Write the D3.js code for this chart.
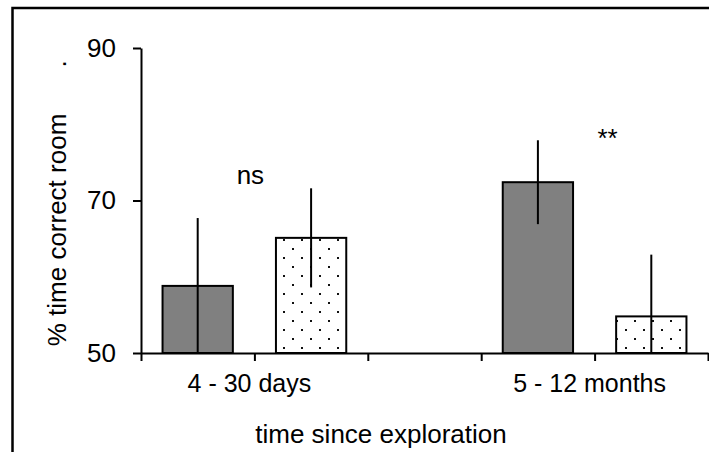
<!DOCTYPE html>
<html>
<head>
<meta charset="utf-8">
<script src="https://cdn.jsdelivr.net/npm/d3@7"></script>
<style>
  html, body { margin: 0; padding: 0; background: #fff; }
  svg { display: block; font-family: "Liberation Sans", Arial, sans-serif; }
</style>
</head>
<body>
<div id="chart"></div>
<script>
(function () {
  // data
  const groups = ['4 - 30 days', '5 - 12 months'];
  const conditions = ['solid', 'dotted'];
  const means = [[58.8, 65.1], [72.4, 54.8]];      // % time in correct room
  const errors = [[8.9, 6.5], [5.5, 8.1]];
  const signif = ['ns', '**'];
  const signifY = [72.2, 77.0];                    // baseline value of the marks
  const yTicks = [50, 70, 90];

  const width = 709, height = 452;
  const margin = { top: 48, right: 1, bottom: 99, left: 141 };
  const innerWidth = width - margin.left - margin.right;
  const innerHeight = height - margin.top - margin.bottom;

  const svg = d3.select('#chart').append('svg')
    .attr('width', width)
    .attr('height', height);

  // dotted fill
  const pat = svg.append('defs').append('pattern')
    .attr('id', 'dots')
    .attr('patternUnits', 'userSpaceOnUse')
    .attr('width', 18).attr('height', 18)
    .attr('x', 286).attr('y', 245);
  pat.append('rect').attr('width', 18).attr('height', 18).attr('fill', '#fff');
  pat.append('rect').attr('x', 0).attr('y', 0).attr('width', 2).attr('height', 2).attr('fill', '#111');
  pat.append('rect').attr('x', 9).attr('y', 9).attr('width', 2).attr('height', 2).attr('fill', '#111');

  // outer frame (runs off the right and bottom edge)
  svg.append('rect')
    .attr('x', 12.5).attr('y', 8)
    .attr('width', 900).attr('height', 900)
    .attr('fill', 'none')
    .attr('stroke', '#000')
    .attr('stroke-width', 2.5);

  const g = svg.append('g').attr('transform', `translate(${margin.left},${margin.top})`);

  // 5 slots: two bars, a gap, two bars
  const nSlots = groups.length * conditions.length + (groups.length - 1);
  const x = d3.scaleLinear().domain([0, nSlots]).range([0, innerWidth]);
  const y = d3.scaleLinear().domain([50, 90]).range([innerHeight, 0]);
  const slotW = x(1) - x(0);
  const barW = slotW * 0.62;
  const slotOf = (gi, ci) => gi * (conditions.length + 1) + ci;

  const bars = [];
  groups.forEach((grp, gi) => conditions.forEach((c, ci) => {
    bars.push({ group: grp, cond: c, gi, ci, mean: means[gi][ci], err: errors[gi][ci] });
  }));

  // x axis: ticks at slot boundaries
  const gx = g.append('g')
    .attr('transform', `translate(0,${innerHeight})`)
    .call(d3.axisBottom(x).tickValues(d3.range(nSlots + 1)).tickSize(8).tickSizeOuter(0).tickFormat(''));
  gx.select('.domain').attr('stroke-width', 2);
  gx.selectAll('.tick line').attr('stroke-width', 2);

  // bars
  g.append('g').selectAll('rect').data(bars).join('rect')
    .attr('x', d => x(slotOf(d.gi, d.ci) + 0.5) - barW / 2)
    .attr('y', d => y(d.mean))
    .attr('width', barW)
    .attr('height', d => y(50) - y(d.mean))
    .attr('fill', d => d.ci === 0 ? '#808080' : 'url(#dots)')
    .attr('stroke', '#000')
    .attr('stroke-width', 2);

  // error bars (no caps, clipped at the axis)
  g.append('g').selectAll('line').data(bars).join('line')
    .attr('x1', d => x(slotOf(d.gi, d.ci) + 0.5))
    .attr('x2', d => x(slotOf(d.gi, d.ci) + 0.5))
    .attr('y1', d => y(d.mean + d.err))
    .attr('y2', d => y(Math.max(50, d.mean - d.err)))
    .attr('stroke', '#000')
    .attr('stroke-width', 2);

  // y axis
  const gy = g.append('g')
    .call(d3.axisLeft(y).tickValues(yTicks).tickSize(8).tickSizeOuter(0).tickPadding(17));
  gy.select('.domain').attr('stroke-width', 2);
  gy.selectAll('.tick line').attr('stroke-width', 2);
  gy.selectAll('.tick text').attr('font-size', 26).attr('fill', '#000')
    .attr('font-family', '"Liberation Sans", Arial, sans-serif');

  // group labels
  g.append('g').selectAll('text').data(groups).join('text')
    .attr('x', (d, i) => x(slotOf(i, 1)) - 5)
    .attr('y', innerHeight + 39)
    .attr('text-anchor', 'middle')
    .attr('font-size', 25)
    .text(d => d);

  // significance marks
  g.append('g').selectAll('text').data(signif).join('text')
    .attr('x', (d, i) => x(slotOf(i, 1)) + (i === 0 ? -4 : 13))
    .attr('y', (d, i) => y(signifY[i]))
    .attr('text-anchor', 'middle')
    .attr('font-size', 26)
    .text(d => d);

  // axis titles
  g.append('text')
    .attr('x', 240)
    .attr('y', innerHeight + 90)
    .attr('text-anchor', 'middle')
    .attr('font-size', 26)
    .text('time since exploration');

  g.append('text')
    .attr('transform', 'rotate(-90)')
    .attr('x', -(230 - margin.top))
    .attr('y', 66 - margin.left)
    .attr('text-anchor', 'middle')
    .attr('font-size', 26)
    .text('% time correct room');

  g.append('text')
    .attr('transform', 'rotate(-90)')
    .attr('x', -(64 - margin.top))
    .attr('y', 66 - margin.left)
    .attr('text-anchor', 'middle')
    .attr('font-size', 26)
    .text('.');
})();
</script>
</body>
</html>
